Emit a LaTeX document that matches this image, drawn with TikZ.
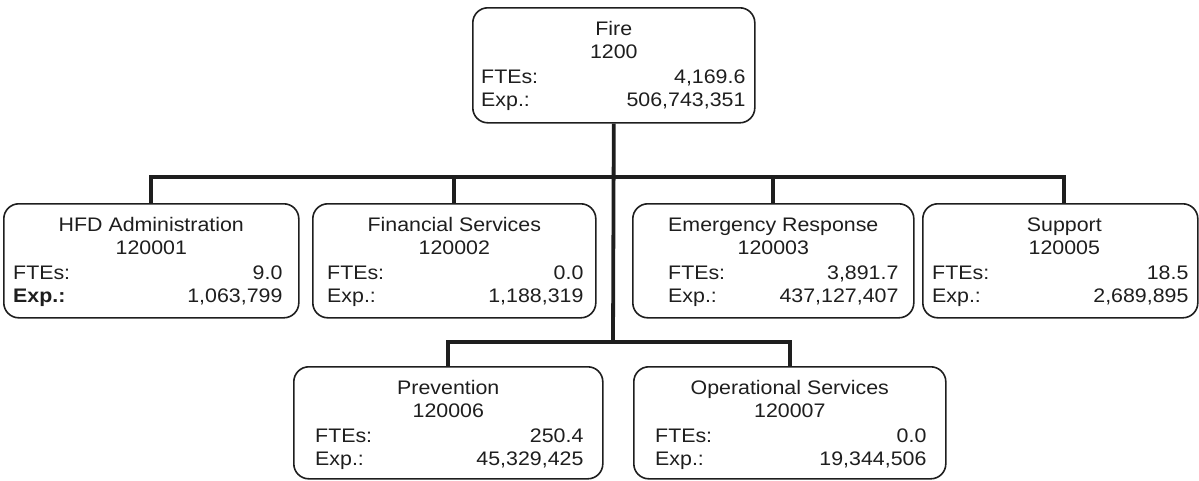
\documentclass[tikz,border=0pt]{standalone}
\usepackage{fontspec}
\setmainfont{Liberation Sans}[FakeStretch=1.09]
\usetikzlibrary{calc}
\definecolor{ink}{HTML}{1E1E1E}
\tikzset{
  unitbox/.style={draw=ink, line width=1.6pt, rounded corners=15pt, inner sep=0pt},
  txt/.style={inner sep=0pt, text=ink, font=\fontsize{19.6}{23}\selectfont},
  conn/.style={draw=ink, line width=3.8pt, line join=miter},
}
% #1 name, #2 title shift, #3 left margin, #4 right margin, #5 title, #6 code, #7 FTE, #8 exp label, #9 exp
\newcommand\unittext[9]{%
  \node[txt, anchor=base] (#1-title) at ($(#1.north)+(#2,28)$) {#5};
  \node[txt, anchor=base] (#1-code) at ($(#1.north)+(#2,51)$) {#6};
  \node[txt, anchor=base west] (#1-fl) at ($(#1.north west)+(#3,76)$) {FTEs:};
  \node[txt, anchor=base east] (#1-fv) at ($(#1.north east)+(-#4,76)$) {#7};
  \node[txt, anchor=base west] (#1-el) at ($(#1.north west)+(#3,99)$) {#8};
  \node[txt, anchor=base east] (#1-ev) at ($(#1.north east)+(-#4,99)$) {#9};
}
\begin{document}
\begin{tikzpicture}[x=1pt, y=-1pt]
\useasboundingbox (0,0) rectangle (1199,480);
% boxes
\node[unitbox, anchor=north west, minimum width=282pt, minimum height=115pt] (fire) at (472,7) {};
\node[unitbox, anchor=north west, minimum width=295pt, minimum height=114pt] (hfd) at (3,203) {};
\node[unitbox, anchor=north west, minimum width=283pt, minimum height=114pt] (fin) at (312,203) {};
\node[unitbox, anchor=north west, minimum width=281pt, minimum height=114pt] (emg) at (632,203) {};
\node[unitbox, anchor=north west, minimum width=275pt, minimum height=114pt] (sup) at (922,203) {};
\node[unitbox, anchor=north west, minimum width=309pt, minimum height=112pt] (prev) at (293,366) {};
\node[unitbox, anchor=north west, minimum width=312pt, minimum height=112pt] (ops) at (633,366) {};
% texts
\unittext{fire}{0}{9}{10}{Fire}{1200}{4,169.6}{Exp.:}{506,743,351}
\unittext{hfd}{0}{10}{17}{HFD Administration}{120001}{9.0}{\textbf{Exp.:}}{1,063,799}
\unittext{fin}{0}{15}{13}{Financial Services}{120002}{0.0}{Exp.:}{1,188,319}
\unittext{emg}{0}{36}{16}{Emergency Response}{120003}{3,891.7}{Exp.:}{437,127,407}
\unittext{sup}{4}{10}{10}{Support}{120005}{18.5}{Exp.:}{2,689,895}
\unittext{prev}{0}{22}{20}{Prevention}{120006}{250.4}{Exp.:}{45,329,425}
\unittext{ops}{0}{22}{20}{Operational Services}{120007}{0.0}{Exp.:}{19,344,506}
% connectors
\coordinate (j1) at (613,177);
\coordinate (j2) at (613,342);
\draw[conn] (fire.south) -- (j2);
\draw[conn] (hfd.north) -- (hfd.north |- j1) -- ([xshift=3.5pt]sup.north |- j1) -- ([xshift=3.5pt]sup.north);
\draw[conn] (fin.north |- j1) -- (fin.north);
\draw[conn] (emg.north |- j1) -- (emg.north);
\draw[conn] (prev.north) -- (prev.north |- j2) -- (ops.north |- j2) -- (ops.north);
\end{tikzpicture}
\end{document}
